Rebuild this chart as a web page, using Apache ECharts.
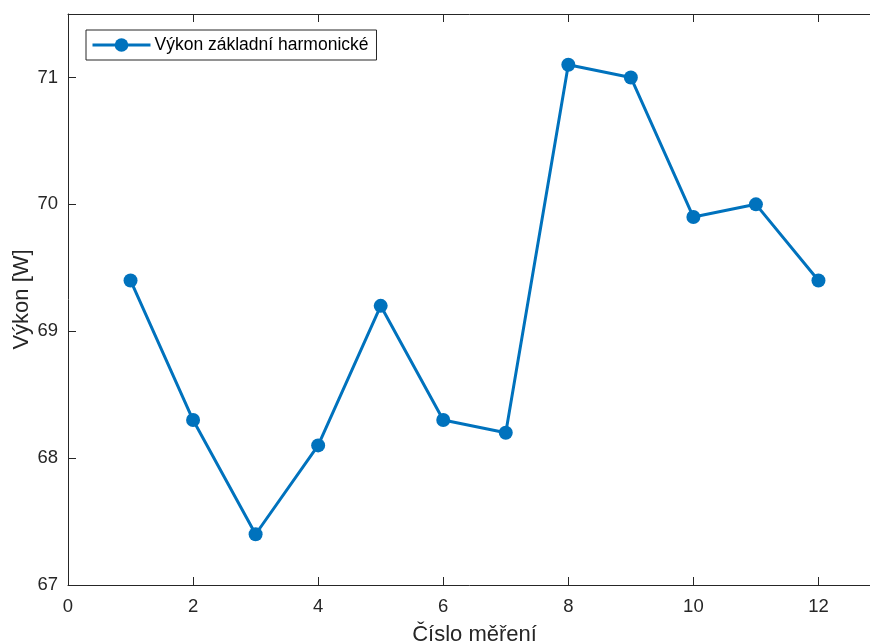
<!DOCTYPE html>
<html>
<head>
<meta charset="utf-8">
<script src="https://cdn.jsdelivr.net/npm/echarts@6/dist/echarts.min.js"></script>
<style>
  html, body { margin: 0; padding: 0; background: #fff; }
  #chart { width: 870px; height: 641px; }
</style>
</head>
<body>
<div id="chart"></div>
<script>
// Measurement numbers and the measured power values
const measurementIdx = [1, 2, 3, 4, 5, 6, 7, 8, 9, 10, 11, 12];
const powerValues = [69.4, 68.3, 67.4, 68.1, 69.2, 68.3, 68.2, 71.1, 71.0, 69.9, 70.0, 69.4];
const xTicks = [0, 2, 4, 6, 8, 10, 12];
const yTicks = [67, 68, 69, 70, 71];
const seriesName = 'Výkon základní harmonické';
const xTitle = 'Číslo měření';
const yTitle = 'Výkon [W]';

const axisColor = '#262626';
const lineColor = '#0072BD';
const font = '"Liberation Sans", Arial, Helvetica, sans-serif';

const chart = echarts.init(document.getElementById('chart'), null, { renderer: 'canvas' });

const tickStyle = { show: true, inside: true, length: 8, lineStyle: { color: axisColor, width: 1 } };
const lineAxis = { show: true, lineStyle: { color: axisColor, width: 1 } };

chart.setOption({
  animation: false,
  backgroundColor: '#ffffff',
  grid: { left: 68, top: 14, width: 813, height: 571, containLabel: false, outerBoundsMode: 'none' },
  legend: {
    left: 86, top: 30,
    padding: [6, 8, 6, 5],
    borderColor: axisColor, borderWidth: 1,
    itemWidth: 58, itemHeight: 17, itemGap: 0,
    lineStyle: { width: 3 },
    textStyle: { color: '#000', fontFamily: font, fontSize: 17.5, padding: [0, 0, 0, -1] },
    data: [seriesName]
  },
  xAxis: [
    {
      type: 'value', min: 0, max: 13, interval: 2,
      position: 'bottom',
      axisLine: lineAxis,
      axisTick: Object.assign({ customValues: xTicks }, tickStyle),
      splitLine: { show: false },
      axisLabel: { customValues: xTicks, color: axisColor, fontFamily: font, fontSize: 18.5, margin: 12 },
      name: xTitle, nameLocation: 'middle', nameGap: 39, nameMoveOverlap: false,
      nameTextStyle: { color: axisColor, fontFamily: font, fontSize: 22 }
    },
    {
      type: 'value', min: 0, max: 13, interval: 2,
      position: 'top',
      axisLine: lineAxis,
      axisTick: Object.assign({ customValues: xTicks }, tickStyle),
      splitLine: { show: false },
      axisLabel: { show: false }
    }
  ],
  yAxis: [
    {
      type: 'value', min: 67, max: 71.5, interval: 1,
      axisLine: lineAxis,
      axisTick: Object.assign({ customValues: yTicks }, tickStyle),
      splitLine: { show: false },
      axisLabel: { customValues: yTicks, color: axisColor, fontFamily: font, fontSize: 18.5, margin: 10 },
      name: yTitle, nameLocation: 'middle', nameGap: 35, nameMoveOverlap: false,
      nameTextStyle: { color: axisColor, fontFamily: font, fontSize: 22 }
    }
  ],
  series: [{
    name: seriesName,
    type: 'line',
    data: measurementIdx.map((x, i) => [x, powerValues[i]]),
    symbol: 'circle',
    symbolSize: 14,
    lineStyle: { color: lineColor, width: 3 },
    itemStyle: { color: lineColor },
    z: 3
  }]
});
</script>
</body>
</html>
